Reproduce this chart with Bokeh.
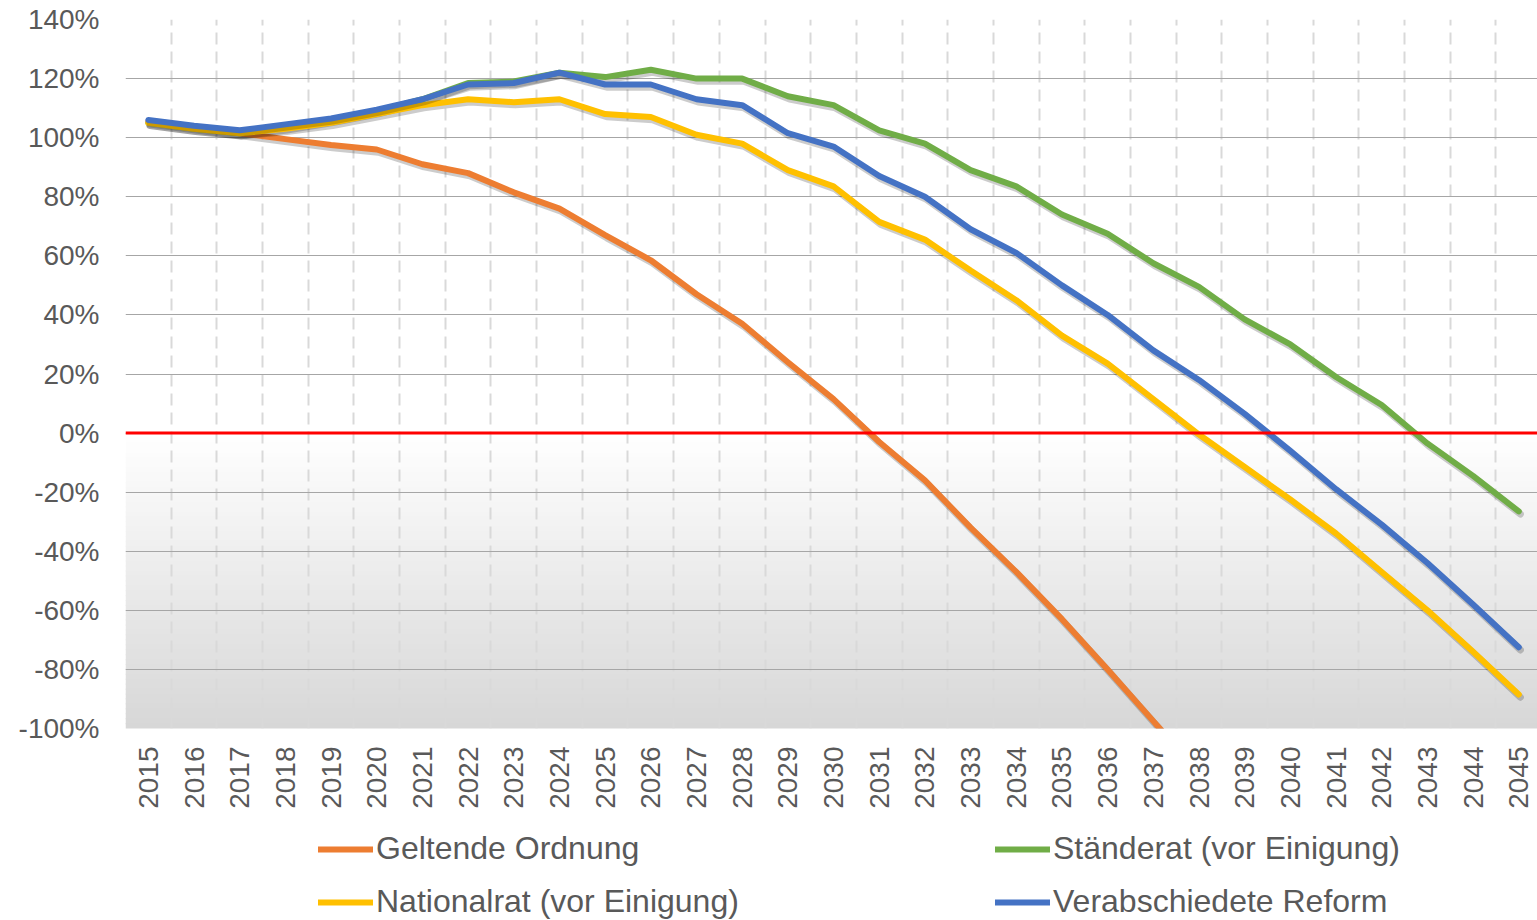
import math
from bokeh.plotting import figure
from bokeh.layouts import column
from bokeh.models import (Range1d, FixedTicker, PrintfTickFormatter, Span, BoxAnnotation,
                          Legend, LegendItem, ColumnDataSource)
from bokeh.embed import file_html
from bokeh.resources import INLINE

nan = float("nan")

years = list(range(2015, 2046))
y_ticks = list(range(-100, 141, 20))

geltende = [105.5, 103.5, 101.5, 99.5, 97.5, 96, 91, 88, 81.5, 76, 67, 58.5, 47, 37, 24, 11.5,
            -3, -16, -32, -47, -63, -80, -97.5, -115, nan, nan, nan, nan, nan, nan, nan]
staenderat = [105, 103, 101.5, 103.5, 106, 109, 113, 118.5, 119, 122, 120.5, 123, 120, 120, 114, 111,
              102.5, 98, 89, 83.5, 74, 67.5, 57.5, 49.5, 38.5, 30, 19, 9.5, -3.5, -14.5, -26.5]
nationalrat = [105, 103, 101.5, 103, 105, 108, 111, 113, 112, 113, 108, 107, 101, 98, 89, 83.5,
               71.5, 65.5, 55, 45, 33, 23.5, 11.5, -0.5, -11.5, -22.5, -34, -47, -60, -74, -88.5]
reform = [106, 104, 102.5, 104.5, 106.5, 109.5, 113, 118, 118.5, 122, 118, 118, 113, 111, 101.5, 97,
          87, 80, 69, 61, 50, 40, 28, 18, 6.5, -6, -19, -31, -44, -58, -72.5]

labels = ["Geltende Ordnung", "Ständerat (vor Einigung)", "Nationalrat (vor Einigung)", "Verabschiedete Reform"]
colors = ["#ED7D31", "#70AD47", "#FFC000", "#4472C4"]
series = [geltende, staenderat, nationalrat, reform]

FONT = "Liberation Sans"
TXT = "#595959"

X0, X1 = 2014.5, 2045.41
Y0, Y1 = -100, 140

p = figure(width=1537, height=820, output_backend="svg", toolbar_location=None,
           x_range=Range1d(X0, X1), y_range=Range1d(Y0, Y1),
           min_border_left=125, min_border_right=0, min_border_top=19, min_border_bottom=92)
p.outline_line_color = None
p.background_fill_color = "white"
p.border_fill_color = "white"

# shadow ranges (shifted a couple of pixels right / down)
dx, dy = 0.035, 0.9
p.extra_x_ranges = {"sh": Range1d(X0 - dx, X1 - dx)}
p.extra_y_ranges = {"sh": Range1d(Y0 + dy, Y1 + dy)}

# gradient below zero
n = 60
for i in range(n):
    top = -100.0 * i / n
    bottom = -100.0 * (i + 1) / n
    t = (i + 0.5) / n
    c = int(round(255 - t * (255 - 0xD7)))
    col = "#%02x%02x%02x" % (c, c, c)
    p.add_layout(BoxAnnotation(top=top + 0.2, bottom=bottom - 0.2, fill_color=col, fill_alpha=1.0,
                               line_alpha=0, level="image"))

# grids
p.xgrid.ticker = FixedTicker(ticks=[y - 0.5 for y in years] + [years[-1] + 0.5])
p.xgrid.grid_line_color = "#D9D9D9"
p.xgrid.grid_line_width = 2
p.xgrid.grid_line_dash = "12 7"
p.ygrid.ticker = FixedTicker(ticks=[v for v in y_ticks if v > -100])
p.ygrid.grid_line_color = "#A6A6A6"
p.ygrid.grid_line_width = 1

# axes
p.yaxis.ticker = FixedTicker(ticks=y_ticks)
p.yaxis.formatter = PrintfTickFormatter(format="%d%%")
p.xaxis.ticker = FixedTicker(ticks=years)
p.xaxis.major_label_orientation = math.pi / 2
for ax in (p.xaxis[0], p.yaxis[0]):
    ax.axis_line_color = None
    ax.major_tick_line_color = None
    ax.minor_tick_line_color = None
    ax.major_tick_out = 0
    ax.major_tick_in = 0
    ax.major_label_text_font = FONT
    ax.major_label_text_font_size = "28px"
    ax.major_label_text_color = TXT
p.yaxis.major_label_standoff = 26
p.xaxis.major_label_standoff = 18

renderers = []
for vals, col in zip(series, colors):
    src = ColumnDataSource(dict(x=years, y=vals))
    p.line("x", "y", source=src, line_color="black", line_alpha=0.2, line_width=7,
           line_join="round", line_cap="round", x_range_name="sh", y_range_name="sh")
    r = p.line("x", "y", source=src, line_color=col, line_width=6,
               line_join="round", line_cap="round")
    renderers.append(r)

p.add_layout(Span(location=0, dimension="width", line_color="#FF0000", line_width=3))

# legend strip below the chart (its series lie outside its own ranges, only the legend shows)
lg = figure(width=1537, height=100, output_backend="svg", toolbar_location=None,
            x_range=Range1d(0, 1), y_range=Range1d(0, 1),
            min_border_left=125, min_border_right=0, min_border_top=0, min_border_bottom=0,
            x_axis_location=None, y_axis_location=None)
lg.outline_line_color = None
lg.xgrid.visible = False
lg.ygrid.visible = False
leg_r = []
for vals, col in zip(series, colors):
    src = ColumnDataSource(dict(x=years, y=vals))
    leg_r.append(lg.line("x", "y", source=src, line_color=col, line_width=6, line_cap="round"))

legend_kw = dict(orientation="vertical", border_line_color=None, background_fill_alpha=0,
                 padding=0, margin=0, spacing=16, glyph_width=55, glyph_height=36,
                 label_height=36, label_standoff=3, label_text_font=FONT,
                 label_text_font_size="32px", label_text_color=TXT)
leg1 = Legend(items=[LegendItem(label=labels[0], renderers=[leg_r[0]]),
                     LegendItem(label=labels[2], renderers=[leg_r[2]])],
              location=(193, 0), **legend_kw)
leg2 = Legend(items=[LegendItem(label=labels[1], renderers=[leg_r[1]]),
                     LegendItem(label=labels[3], renderers=[leg_r[3]])],
              location=(870, 0), **legend_kw)
lg.add_layout(leg1, "center")
lg.add_layout(leg2, "center")

layout = column(p, lg, spacing=0)
open("out.html", "w").write(file_html(layout, INLINE))
